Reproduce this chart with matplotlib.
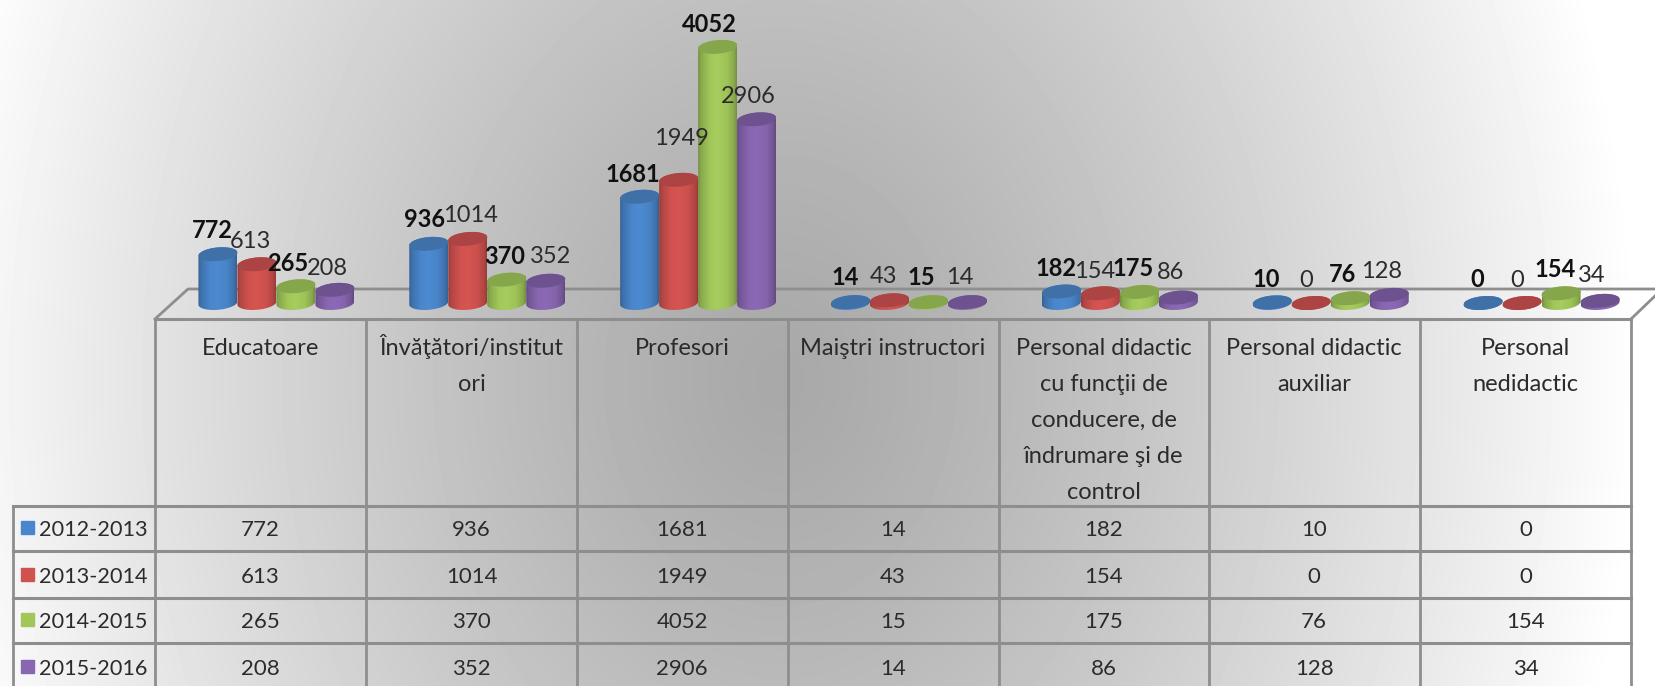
# Teaching staff by category, 3D-look cylinder chart with data table

import numpy as np
import matplotlib
matplotlib.use('Agg')
import matplotlib.pyplot as plt
from matplotlib.colors import to_rgb
from matplotlib.patches import PathPatch, Rectangle
from matplotlib.path import Path

# Data

header_lines = [
    ['Educatoare'],
    ['Învăţători/institut', 'ori'],
    ['Profesori'],
    ['Maiştri instructori'],
    ['Personal didactic', 'cu funcţii de', 'conducere, de', 'îndrumare şi de', 'control'],
    ['Personal didactic', 'auxiliar'],
    ['Personal', 'nedidactic'],
]
years = ['2012-2013', '2013-2014', '2014-2015', '2015-2016']
v2012 = [772, 936, 1681, 14, 182, 10, 0]
v2013 = [613, 1014, 1949, 43, 154, 0, 0]
v2014 = [265, 370, 4052, 15, 175, 76, 154]
v2015 = [208, 352, 2906, 14, 86, 128, 34]
series = [v2012, v2013, v2014, v2015]

# Styles and layout (pixels of the 1655x686 picture)

W, H = 1655, 686
colors = ['#4a86cb', '#d0524f', '#a1c75a', '#8866b0']
top_colors = ['#3f70a8', '#ab4442', '#86a64b', '#6e5290']
line_col = '#8e8e8e'
col_x = [155, 366, 577, 787.5, 998.5, 1208.5, 1420, 1631]
row_y = [319, 506, 551, 598, 643, 690]
row_base = [536, 583, 628, 675]
legend_left = 12.5
floor_back = 289
base_px = 303
px_per_unit = 0.0632
col_w = (col_x[-1] - col_x[0]) / 7
bar_w = 39 / col_w
group_shift = 16 / col_w
font = ['Lato', 'DejaVu Sans']
fs = 17
fs_num = 16

# Data label centres (1568 wide view)
label_xy = [
    [(201, 218), (402, 208), (600, 165), (801, 263), (1001, 254), (1200, 265), (1400, 265)],
    [(237, 229), (446, 204), (646, 131), (837, 262), (1037, 257), (1237, 266), (1437, 266)],
    [(273, 250), (478, 243), (672, 23), (873, 263), (1074, 254), (1272, 260), (1473, 255)],
    [(310, 254), (522, 243), (709, 91), (909, 263), (1109, 258), (1309, 257), (1508, 261)],
]
view_scale = W / 1568

plt.rcParams['font.family'] = font

fig = plt.figure(figsize=(W / 100, H / 100), dpi=100)
ax = fig.add_axes([0, 0, 1, 1])
ax.set_axis_off()

# Background gradient

yy, xx = np.mgrid[0:H, 0:W]
r = np.sqrt(((xx - 780) / 860) ** 2 + ((yy - 380) / 1100) ** 2)
shade = 0.66 + (1.0 - 0.66) * np.clip(r, 0, 1) ** 1.25
ax.imshow(shade, cmap='gray', vmin=0, vmax=1, extent=(0, W, H, 0), aspect='auto', zorder=0)

# Floor and table grid

ax.plot([col_x[0], 188, W], [row_y[0], floor_back, floor_back], color=line_col, lw=2, zorder=1)
ax.plot([col_x[-1], W], [row_y[0], 296], color=line_col, lw=2, zorder=1)
ax.plot([col_x[0], col_x[-1]], [row_y[0], row_y[0]], color=line_col, lw=2.2, zorder=1)
for y in row_y[1:-1]:
    ax.plot([legend_left, col_x[-1]], [y, y], color=line_col, lw=2.2, zorder=1)
for x in col_x:
    ax.plot([x, x], [row_y[0], H], color=line_col, lw=2, zorder=1)
ax.plot([legend_left, legend_left], [row_y[1], H], color=line_col, lw=2, zorder=1)

# Table text

for i, lines in enumerate(header_lines):
    cx = (col_x[i] + col_x[i + 1]) / 2
    for j, line in enumerate(lines):
        ax.text(cx, 355 + 36 * j, line, ha='center', va='baseline', fontsize=fs, color='#2b2b2b')

for s, vals in enumerate(series):
    ax.add_patch(Rectangle((21, row_base[s] - 15), 13, 13, color=colors[s], zorder=2))
    ax.text(39, row_base[s], years[s], ha='left', va='baseline', fontsize=15.6, color='#2b2b2b')
    for i, v in enumerate(vals):
        cx = (col_x[i] + col_x[i + 1]) / 2
        ax.text(cx, row_base[s], str(v), ha='center', va='baseline', fontsize=fs_num, color='#2b2b2b')

ax.set_xlim(0, W)
ax.set_ylim(H, 0)

# Cylinders, on an axes with category and value scales

ax_bar = fig.add_axes([0, 0, 1, 1])
ax_bar.patch.set_alpha(0)
ax_bar.set_axis_off()
ax_bar.set_autoscale_on(False)
xlim = (-col_x[0] / col_w, (W - col_x[0]) / col_w)
ylim = ((base_px - H) / px_per_unit, base_px / px_per_unit)
ax_bar.set_xlim(xlim)
ax_bar.set_ylim(ylim)

rx = bar_w / 2
ry = 6.8 / px_per_unit
tilt = 1.6 / px_per_unit
t = np.linspace(0, 2 * np.pi, 80)
edge_pos = np.array([0, 0.06, 0.3, 0.5, 0.75, 0.94, 1])
edge_val = np.array([0.72, 0.84, 1.0, 1.03, 0.98, 0.84, 0.72])
grad = np.interp(np.linspace(0, 1, 60), edge_pos, edge_val)


def ellipse(cx, cy):
    return cx + rx * np.cos(t), cy + ry * np.sin(t) + tilt * np.cos(t)


for s, vals in enumerate(series):
    rgb = np.array(to_rgb(colors[s]))
    img = np.clip(grad[None, :, None] * rgb[None, None, :], 0, 1)
    for i, v in enumerate(vals):
        cx = i + 0.5 + group_shift + (s - 1.5) * bar_w
        tx, ty = ellipse(cx, v)
        arc_low = t[t >= np.pi]
        low_x = cx + rx * np.cos(arc_low)
        low_y = ry * np.sin(arc_low) + tilt * np.cos(arc_low)
        arc_up = t[t <= np.pi]
        up_x = cx + rx * np.cos(arc_up)
        up_y = v + ry * np.sin(arc_up) + tilt * np.cos(arc_up)
        verts = np.column_stack([np.r_[low_x, up_x], np.r_[low_y, up_y]])
        clip = PathPatch(Path(np.vstack([verts, verts[0]])), transform=ax_bar.transData,
                         facecolor='none', edgecolor='none')
        ax_bar.add_patch(clip)
        im = ax_bar.imshow(img, extent=(cx - rx, cx + rx, -ry * 1.5, v + ry * 1.5),
                           aspect='auto', zorder=3 + s, interpolation='bilinear')
        im.set_clip_path(clip)
        ax_bar.fill(tx, ty, color=top_colors[s], zorder=3 + s, lw=0)

ax_bar.set_xlim(xlim)
ax_bar.set_ylim(ylim)

# Data labels

for s, vals in enumerate(series):
    for i, v in enumerate(vals):
        lx, ly = label_xy[s][i]
        ax_bar.text(lx * view_scale, ly * view_scale, str(v), transform=ax.transData,
                    ha='center', va='center', fontsize=fs,
                    fontweight='bold' if s in (0, 2) else 'normal',
                    color='#111111' if s in (0, 2) else '#2b2b2b', zorder=10)

fig.savefig('out.png', dpi=100)
